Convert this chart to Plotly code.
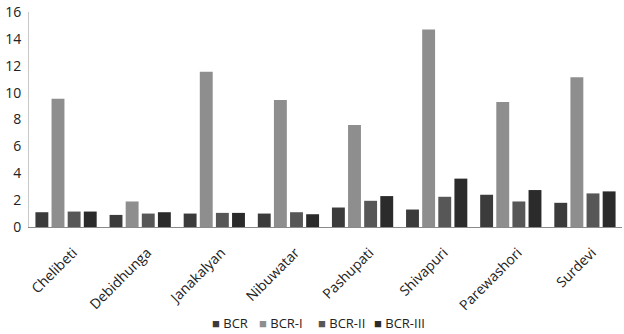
import plotly.graph_objects as go

categories = ["Chelibeti", "Debidhunga", "Janakalyan", "Nibuwatar", "Pashupati", "Shivapuri", "Parewashori", "Surdevi"]
bcr = [1.1, 0.9, 1.0, 1.0, 1.45, 1.3, 2.4, 1.8]
bcr_i = [9.55, 1.9, 11.55, 9.45, 7.6, 14.7, 9.3, 11.15]
bcr_ii = [1.15, 1.0, 1.05, 1.1, 1.95, 2.25, 1.9, 2.5]
bcr_iii = [1.15, 1.1, 1.05, 0.95, 2.3, 3.6, 2.75, 2.65]
y_ticks = [0, 2, 4, 6, 8, 10, 12, 14, 16]

series = [("BCR", bcr, "#3b3b3b"), ("BCR-I", bcr_i, "#8e8e8e"),
          ("BCR-II", bcr_ii, "#575757"), ("BCR-III", bcr_iii, "#2b2b2b")]

fig = go.Figure()
for name, vals, col in series:
    fig.add_trace(go.Bar(x=categories, y=vals, name=name, showlegend=False,
                         marker=dict(color=col, line=dict(width=0))))

# compact legend (small squares close to text), as in the reference
legend_x = [0.306, 0.385, 0.484, 0.579]
for (name, vals, col), lx in zip(series, legend_x):
    fig.add_annotation(x=lx, y=-0.445, xref="paper", yref="paper",
                       xanchor="left", yanchor="middle", showarrow=False,
                       text=f"<span style='color:{col}'>■</span> {name}",
                       font=dict(size=13, color="#222"))

fig.update_layout(
    width=624, height=334,
    margin=dict(l=29, r=2, t=7, b=107),
    paper_bgcolor="white", plot_bgcolor="white",
    barmode="group", bargap=0.13, bargroupgap=0.2,
    font=dict(family="Open Sans", size=13, color="#222"),
    showlegend=False,
    xaxis=dict(showgrid=False, showline=True, linecolor="#8a8a8a", linewidth=1,
               tickangle=-45, ticks="", tickfont=dict(size=14), ticklabelstandoff=11,
               ticklabelshift=7),
    yaxis=dict(range=[0, 16], tickvals=y_ticks, showgrid=False, showline=True,
               linecolor="#c8c8c8", linewidth=1, ticks="", zeroline=False,
               tickfont=dict(size=14), ticklabelstandoff=4,
               ticklabeloverflow="allow"),
)

fig.write_html("out.html")
